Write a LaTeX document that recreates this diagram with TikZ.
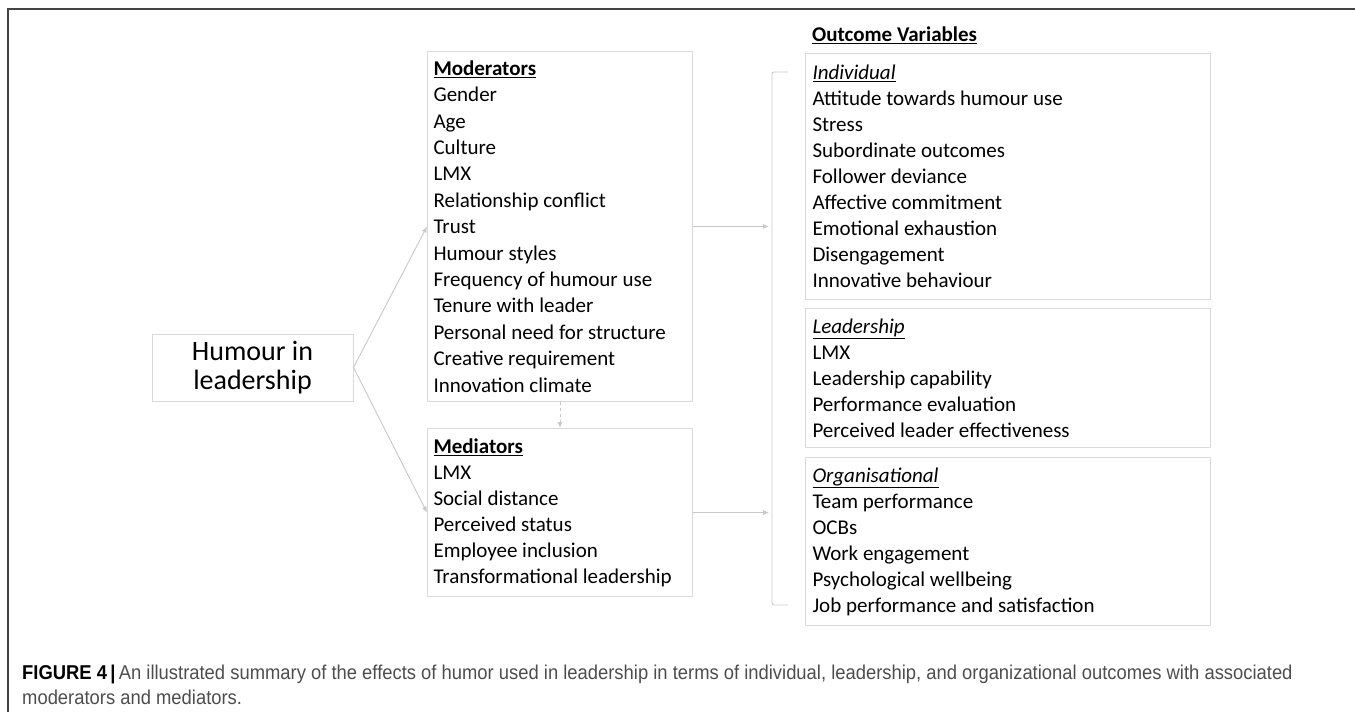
\documentclass[tikz,border=0pt]{standalone}
\usepackage{fontspec}
\setmainfont{Carlito}
\newfontfamily\capfont[FakeStretch=0.92]{Liberation Sans}
\usetikzlibrary{arrows.meta}
\definecolor{boxline}{HTML}{D9D9D9}
\definecolor{arrowline}{HTML}{C8C8C8}
\definecolor{frame}{HTML}{444444}
\definecolor{captext}{HTML}{4D4D4D}

\tikzset{
  varbox/.style={shape=rectangle, draw=boxline, line width=1pt, anchor=north west,
    align=flush left, inner xsep=6pt, inner ysep=3pt, text width=#1,
    font=\fontsize{21}{26}\selectfont},
  link/.style={draw=arrowline, line width=0.9pt, -{Latex[length=6pt,width=5pt]}}
}

\begin{document}
\begin{tikzpicture}[x=1pt, y=-1pt]
    \useasboundingbox (0,0) rectangle (1355,712);
    \draw[frame, line width=1.6pt] (8,712) -- (8,9) -- (1355,9);

    \node at (252.5, 367.5) (Hum) [shape=rectangle, draw=boxline, line width=1pt,
      minimum width=201pt, minimum height=67pt, align=center,
      font=\fontsize{28}{29}\selectfont] {Humour in\\leadership};

    \node at (427, 51) (Mod) [varbox=253pt, minimum height=350pt,
      font=\fontsize{21}{26.4}\selectfont] {%
      \textbf{\underline{Moderators}}\\Gender\\Age\\Culture\\LMX\\Relationship conflict\\Trust\\%
      Humour styles\\Frequency of humour use\\Tenure with leader\\Personal need for structure\\%
      Creative requirement\\Innovation climate};
    \node at (427, 428) (Med) [varbox=253pt, minimum height=168pt] {%
      \textbf{\underline{Mediators}}\\LMX\\Social distance\\Perceived status\\Employee inclusion\\%
      Transformational leadership};

    \node at (812, 27) (Out) [anchor=north west, inner sep=0pt, font=\fontsize{21}{26}\selectfont]
      {\textbf{\underline{Outcome Variables}}};
    \node at (805, 53) (Ind) [varbox=391pt, inner xsep=7pt, minimum height=246pt] {%
      \textit{\underline{Individual}}\\Attitude towards humour use\\Stress\\Subordinate outcomes\\%
      Follower deviance\\Affective commitment\\Emotional exhaustion\\Disengagement\\Innovative behaviour};
    \node at (805, 308) (Lead) [varbox=391pt, inner xsep=7pt, minimum height=139pt] {%
      \textit{\underline{Leadership}}\\LMX\\Leadership capability\\Performance evaluation\\%
      Perceived leader effectiveness};
    \node at (805, 457) (Org) [varbox=391pt, inner xsep=7pt, minimum height=168pt] {%
      \textit{\underline{Organisational}}\\Team performance\\OCBs\\Work engagement\\%
      Psychological wellbeing\\Job performance and satisfaction};

    % bracket round the outcomes
    \coordinate (brkTop) at (772, 72);
    \coordinate (brkBot) at (772, 605);
    \draw[arrowline, line width=0.9pt, rounded corners=2pt]
      (788, 72) -- (brkTop) -- (brkBot) -- (788, 605);

    \draw[link] (Hum.east) -- (Mod.west);
    \draw[link] (Hum.east) -- (Med.west);
    \draw[link, dashed] (Mod.south) -- (Med.north);
    \draw[link] (Mod.east) -- ([xshift=-3pt]brkTop |- Mod.east);
    \draw[link] (Med.east) -- ([xshift=-3pt]brkTop |- Med.east);

    \node at (22, 704) (Cap) [anchor=base west, inner sep=0pt, align=left,
      font=\capfont\fontsize{20}{25}\selectfont, text=captext]
      {\textbf{\color{black}FIGURE 4\,|}\,An illustrated summary of the effects of humor used in leadership in terms of individual, leadership, and organizational outcomes with associated\\
       moderators and mediators.};
  \end{tikzpicture}
\end{document}
